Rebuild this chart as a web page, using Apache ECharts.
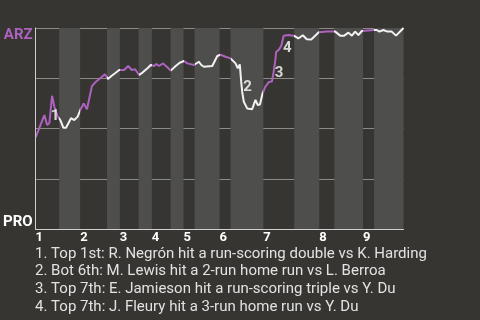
<!DOCTYPE html>
<html><head><meta charset="utf-8">
<script src="https://cdn.jsdelivr.net/npm/echarts@6/dist/echarts.min.js"></script>
<style>html,body{margin:0;padding:0;background:#363531;}#c{width:480px;height:320px;}</style>
</head><body><div id="c"></div>
<script>
// Half-inning boundaries on game-progress axis (0..100)
var halfStarts = [0, 6.4, 12.1, 19.4, 22.9, 28.0, 31.6, 36.7, 40.2, 43.2, 50.0, 53.0, 61.9, 70.3, 77.1, 81.2, 89.0, 92.0];
var gameEnd = 100;
var inningLabels = ['1','2','3','4','5','6','7','8','9'];
var teamLabels = ['PRO','ARZ'];
// ARZ win probability (%) by game progress
var wpX = [0,2.38,3.12,3.74,4.47,5.09,6.02,6.72,7.53,8.27,9.62,10.51,11.44,12.14,13.06,13.96,15.31,16.40,17.56,18.83,
  19.65,20.60,21.68,22.71,23.17,24.07,25.15,26.15,27.05,28.13,29.05,30.41,31.30,32.20,32.79,33.55,34.63,36.10,36.72,38.08,
  39.16,40.33,41.25,43.04,44.39,45.04,45.75,48.02,49.38,50.27,51.63,52.98,54.34,54.96,55.50,55.88,56.15,56.59,57.51,58.86,
  59.76,60.38,60.98,61.65,62.47,63.36,64.23,64.72,65.18,65.37,66.07,66.80,67.43,68.78,70.41,71.41,72.63,73.71,74.93,76.96,
  77.37,79.19,79.62,80.54,81.44,82.79,83.88,85.04,85.96,86.86,87.75,88.67,89.11,92.01,92.74,93.44,94.53,95.61,96.80,97.97,100];
var wpY = [45.6,56.7,51.7,52.7,66.3,60.8,55.9,54.2,50.4,50.4,55.1,54.2,55.9,59.2,62.5,59.6,71.1,73.3,75.0,77.0,
  74.6,76.1,77.6,79.1,80.0,79.1,81.1,79.1,79.5,76.6,77.8,80.0,81.6,81.1,82.1,81.1,82.4,80.0,78.8,81.1,
  82.7,83.6,82.4,81.6,83.2,81.6,80.7,81.1,86.1,86.7,85.7,84.9,82.4,80.0,81.9,73.3,68.3,63.3,60.0,59.6,
  64.2,61.7,61.9,67.2,70.8,73.1,73.4,78.3,84.1,88.1,89.1,91.2,96.2,96.5,96.0,94.8,96.4,94.4,94.3,97.9,
  98.2,98.2,97.4,98.2,98.2,96.2,96.2,97.7,96.2,98.2,96.5,98.5,99.0,99.0,99.0,98.2,99.0,98.2,98.2,96.2,100];
// Key event markers: [x, y, label]
var eventMarks = [[5.3,56.2,'1'],[57.59,70.4,'2'],[66.2,77.6,'3'],[68.4,89.9,'4']];
var notes = [
  '1. Top 1st: R. Negrón hit a run-scoring double vs K. Harding',
  '2. Bot 6th: M. Lewis hit a 2-run home run vs L. Berroa',
  '3. Top 7th: E. Jamieson hit a run-scoring triple vs Y. Du',
  '4. Top 7th: J. Fleury hit a 3-run home run vs Y. Du'
];

var PURPLE = '#ad62c0', WHITE = '#f2f2f2';
var bounds = halfStarts.concat([gameEnd]);
var inningStarts = halfStarts.filter(function(v,i){return i%2===0;});
var bands = [], pieces = [];
for (var i = 0; i < halfStarts.length; i++) {
  if (i % 2 === 1) bands.push([{xAxis: bounds[i]}, {xAxis: bounds[i+1]}]);
  pieces.push({gte: bounds[i], lt: (i === halfStarts.length-1 ? gameEnd + 1 : bounds[i+1]), color: i % 2 === 0 ? PURPLE : WHITE});
}
var lineData = wpX.map(function(x,i){return [x, wpY[i]];});

var chart = echarts.init(document.getElementById('c'), null, {renderer:'canvas'});
chart.setOption({
  backgroundColor: '#363531',
  animation: false,
  title: {
    text: notes.join('\n'), left: 35, top: 245, padding: 0,
    textStyle: {color: '#e2e2e2', fontSize: 15, fontWeight: 'normal', fontFamily: 'Roboto', lineHeight: 17.8}
  },
  grid: {left: 34.5, right: 76.5, top: 28, height: 201},
  xAxis: {
    type: 'value', min: 0, max: gameEnd,
    axisLine: {show: true, lineStyle: {color: '#cfcfcf', width: 1}},
    axisTick: {show: false},
    splitLine: {show: false},
    axisLabel: {
      customValues: inningStarts, align: 'left', margin: 2,
      color: '#ffffff', fontSize: 13, fontWeight: 'bold', fontFamily: 'Roboto',
      formatter: function(v){
        var best = 0;
        inningStarts.forEach(function(s, k){ if (Math.abs(s - v) < Math.abs(inningStarts[best] - v)) best = k; });
        return inningLabels[best];
      }
    }
  },
  yAxis: {
    type: 'value', min: 0, max: 100, interval: 25,
    axisLine: {show: true, lineStyle: {color: '#cfcfcf', width: 1}},
    axisTick: {show: false},
    splitLine: {show: true, lineStyle: {color: '#8a8a88', width: 1}},
    axisLabel: {
      customValues: [0, 100], margin: 3,
      formatter: function(v){ return v >= 50 ? '{a|' + teamLabels[1] + '}' : '{p|' + teamLabels[0] + '}'; },
      rich: {
        a: {color: PURPLE, fontSize: 15, fontWeight: 'bold', fontFamily: 'Roboto', padding: [15,0,0,0]},
        p: {color: '#ffffff', fontSize: 15, fontWeight: 'bold', fontFamily: 'Roboto', padding: [0,0,14,0]}
      }
    }
  },
  visualMap: {
    type: 'piecewise', show: false, dimension: 0, seriesIndex: 1, pieces: pieces
  },
  series: [
    {
      type: 'line', data: [], z: -1, silent: true,
      markArea: {silent: true, itemStyle: {color: '#4e4e4c'}, data: bands}
    },
    {
      type: 'line', data: lineData, showSymbol: false, z: 3,
      lineStyle: {width: 2}
    },
    {
      type: 'scatter', data: eventMarks, symbolSize: 0, z: 5, silent: true,
      label: {show: true, position: 'inside', formatter: function(p){return p.data[2];},
        color: '#ffffff', fontSize: 15, fontWeight: 'bold', fontFamily: 'Roboto'}
    }
  ]
});
</script></body></html>
